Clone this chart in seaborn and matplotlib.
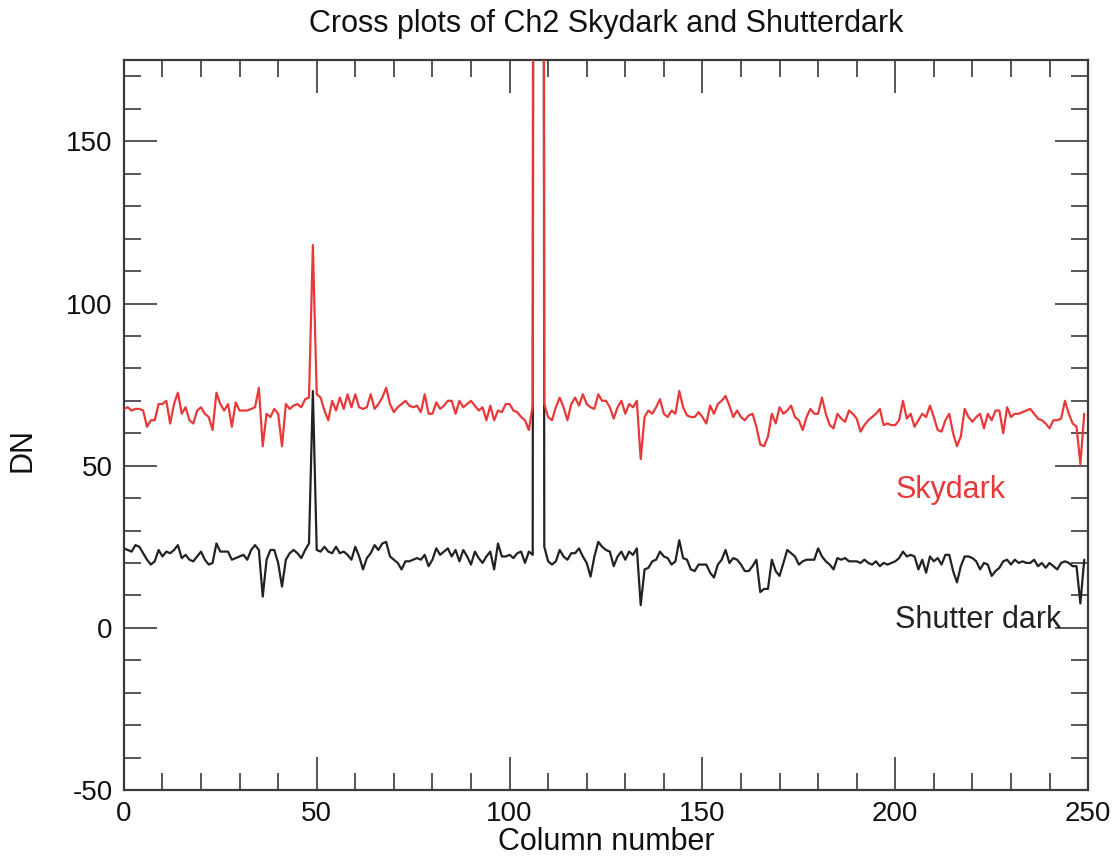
import numpy as np
import pandas as pd
import matplotlib
matplotlib.use("Agg")
import matplotlib.pyplot as plt
from matplotlib.ticker import MultipleLocator
import seaborn as sns

# Column-wise dark levels (DN) for channel 2; columns 107-108 saturate far above the plot range
skydark = [
    67.5, 68, 67, 67.5, 67.5, 67, 62, 64, 64, 69, 69, 70, 63, 69, 72.5, 66, 68, 64, 63, 67, 68, 66, 65, 61, 72.5, 69, 67, 69, 62, 69.5, 67, 67,
    67, 67.5, 68, 74, 56, 66, 65, 67.5, 66, 56, 69, 67.5, 68.5, 69, 68, 70.5, 71, 118, 72, 71, 67, 64, 70, 67, 71, 67.5, 72, 68, 72, 68, 67.5,
    68, 72, 67.5, 69, 71, 74, 69, 66.5, 68, 69, 70, 68.5, 68, 68.5, 66.5, 72, 66, 66, 69.5, 67.5, 68.5, 70, 70, 66, 70, 68, 69, 70, 68.5, 67, 68,
    64, 68.5, 64, 67, 66.5, 69, 69, 67, 66.5, 65, 64, 61, 68.5, 1500, 1500, 69, 65, 64, 68, 71, 68, 64, 69, 71, 68.5, 72, 69, 68, 67.5, 72, 70,
    70, 68, 64.5, 68, 70, 66, 69, 68, 70, 52, 65, 67, 66, 68, 70.5, 66, 65, 67, 66, 73, 68, 65.5, 65, 65, 66.5, 65, 63, 68.5, 66, 69, 70,
    71.5, 68.5, 65, 67, 65, 64, 65.5, 66, 62, 56.5, 56, 59, 66, 63, 68, 66, 67, 68.5, 65, 64, 61, 65, 67.5, 66, 66, 71, 66, 62.5, 61.5, 66, 64.5, 63.5,
    67, 66, 64.5, 60.5, 62.5, 64, 65, 66, 67.5, 62.5, 63, 62.5, 62.5, 64, 70, 64.5, 66, 62, 64, 66, 65, 68.5, 65, 61, 60.5, 64, 66, 60, 56, 59, 67.5,
    65, 63.5, 65, 66, 61.5, 66, 64, 67, 67, 60, 68, 65, 66, 66, 66.5, 67, 67.5, 66, 64.5, 64, 63, 61.5, 64, 64, 64.5, 70, 66, 63, 62, 50.5, 66,
]

shutterdark = [
    24.5, 24, 23.5, 25.5, 25, 23, 21, 19.5, 20.5, 24, 22, 23.5, 23, 24, 25.5, 21.5, 22.5, 21, 20.5, 22, 23.5, 21, 19.5, 20, 26, 23.5, 23.5, 23.5, 21, 21.5, 22, 22.5,
    21, 24, 25.5, 24, 9.6, 21, 24, 24, 20, 12.7, 21, 23, 24, 23, 21.5, 24, 26, 73, 24, 23.5, 25, 23.5, 23, 25, 23, 23.5, 22.5, 21, 25, 22, 18,
    21.5, 23, 25.5, 24, 26, 26.5, 22, 21, 20, 18, 20.5, 20.5, 21, 21.5, 21, 22.5, 19, 21, 24.5, 22.5, 23.5, 24.5, 22, 24, 20.5, 24, 22, 19.5, 23.5, 21.5, 20,
    22, 23.5, 18, 26, 22, 22, 22.5, 21.5, 23, 23.5, 20, 23.5, 22.5, 1450, 1450, 25, 20.5, 19.5, 20.5, 24, 22, 21, 23, 23, 24.5, 22, 20, 15.8, 22, 26.5, 25,
    24, 23.5, 19, 22, 23.5, 21, 23.5, 22.5, 24.5, 7, 18, 18.5, 20.5, 21, 23.5, 22, 21.5, 19.5, 20.5, 27, 21.5, 21, 18, 17.5, 19.5, 19.5, 19.5, 17, 15.5, 19.5, 21,
    24, 20, 21.5, 21, 19.5, 17.5, 17.5, 19, 21, 11, 12, 12, 21, 17.5, 16, 20, 24, 23, 22, 19.5, 20.5, 21, 21, 21, 24.5, 22, 20.5, 19.5, 18, 21.5, 21, 21.5,
    20.5, 20.5, 20.5, 20, 21, 20, 19.5, 20.5, 19, 20, 19.5, 20, 20.5, 21.5, 23.5, 22, 22.5, 22, 18, 21, 17, 22, 20.5, 21.5, 19.5, 22.5, 22.5, 17.5, 14, 19, 22,
    22, 21.5, 20.5, 18, 20, 19.5, 16, 17.5, 18.5, 20.5, 21, 19.5, 21, 20, 20.5, 20, 20, 21, 19, 20, 18.5, 20, 19, 18, 20, 20.5, 20, 19, 19, 7.5, 21,
]

columns = list(range(len(skydark)))
x_ticks = [0, 50, 100, 150, 200, 250]
y_ticks = [-50, 0, 50, 100, 150]

RED = "#e8393a"
INK = "#222222"
AXIS = "#3a3a3a"

sns.set_style("white")
plt.rcParams["font.family"] = ["Liberation Sans", "DejaVu Sans"]
plt.rcParams["axes.unicode_minus"] = False

df_sky = pd.DataFrame({"Column number": columns, "DN": skydark})
df_shut = pd.DataFrame({"Column number": columns, "DN": shutterdark})

fig = plt.figure(figsize=(11.16, 8.61), dpi=100)
ax = fig.add_axes([0.111, 0.0825, 0.864, 0.8475])

sns.lineplot(data=df_shut, x="Column number", y="DN", color=INK, lw=1.6, ax=ax, zorder=2)
sns.lineplot(data=df_sky, x="Column number", y="DN", color=RED, lw=1.6, ax=ax, zorder=3)

ax.set_xlim(0, 250)
ax.set_ylim(-50, 175)
ax.set_xticks(x_ticks)
ax.set_yticks(y_ticks)
ax.xaxis.set_minor_locator(MultipleLocator(10))
ax.yaxis.set_minor_locator(MultipleLocator(10))
ax.tick_params(which="both", direction="in", bottom=True, left=True, top=True, right=True,
               color=AXIS, width=1.2, labelsize=20, labelcolor="#111111", pad=8)
ax.tick_params(which="major", length=24)
ax.tick_params(which="minor", length=12)
for sp in ax.spines.values():
    sp.set_color(AXIS)
    sp.set_linewidth(1.6)

ax.set_xlabel("Column number", fontsize=22, color="#111111", labelpad=0)
ax.set_ylabel("DN", fontsize=22, color="#111111", labelpad=14)
ax.yaxis.set_label_coords(-0.09, 0.466)
ax.set_title("Cross plots of Ch2 Skydark and Shutterdark", fontsize=22,
             color="#111111", pad=20)

ax.text(200, 42.5, "Skydark", color=RED, fontsize=22, va="center", ha="left")
ax.text(200, 2.5, "Shutter dark", color=INK, fontsize=22, va="center", ha="left")

fig.savefig("out.png", dpi=100)
